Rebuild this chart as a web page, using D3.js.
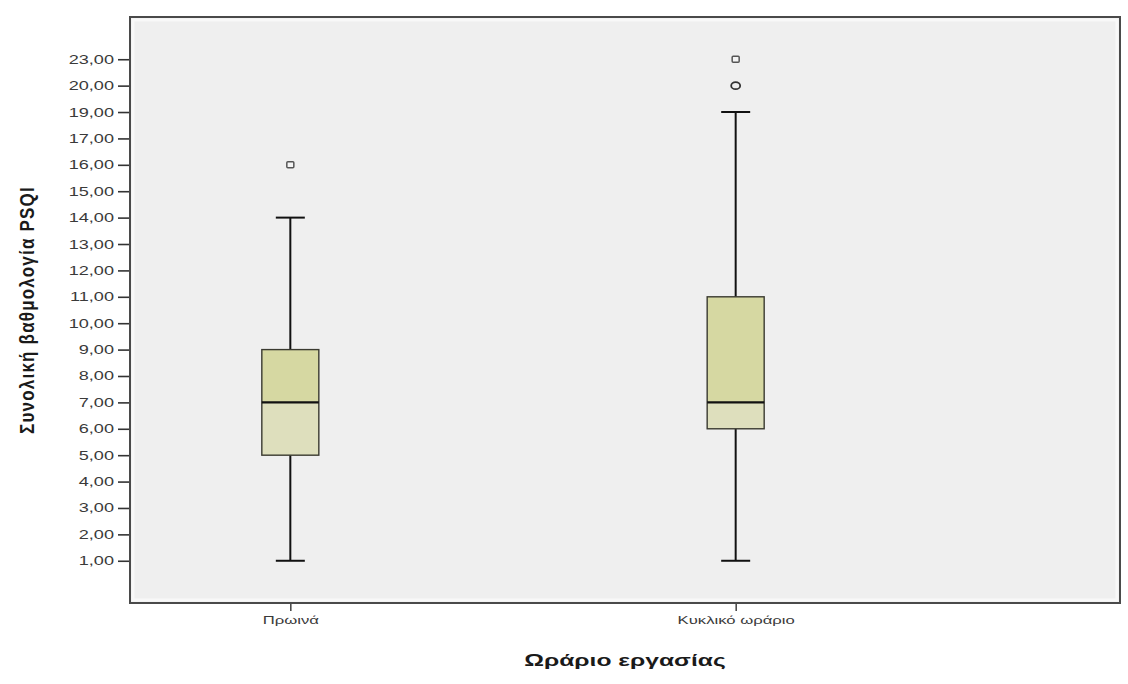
<!DOCTYPE html>
<html>
<head>
<meta charset="utf-8">
<script src="https://cdn.jsdelivr.net/npm/d3@7"></script>
<style>
  html, body { margin: 0; padding: 0; background: #ffffff; }
  svg { display: block; }
</style>
</head>
<body>
<svg id="chart" width="1128" height="684"></svg>
<script>
// Box plot of total PSQI score by work schedule
const categories = ["Πρωινά", "Κυκλικό ωράριο"];
const whiskerLow = [1, 1];
const quartile1 = [5, 6];
const medians = [7, 7];
const quartile3 = [9, 11];
const whiskerHigh = [14, 19];
// Points beyond the whiskers, with the symbol used for each
const outlierValues = [[16], [20, 23]];
const outlierSymbols = [["square"], ["circle", "square"]];
// Score values that carry a tick (the axis lists observed scores only)
const yTickValues = [1, 2, 3, 4, 5, 6, 7, 8, 9, 10, 11, 12, 13, 14, 15, 16, 17, 19, 20, 23];

const xTitle = "Ωράριο εργασίας";
const yTitle = "Συνολική βαθμολογία PSQI";

const svg = d3.select("#chart");
const frame = { left: 130, right: 1120, top: 17, bottom: 603 };
const textStretch = 1.45;

const x = d3.scalePoint()
  .domain(categories)
  .range([frame.left, 896])
  .padding(0.36);

const y = d3.scalePoint()
  .domain(yTickValues)
  .range([frame.bottom, frame.top])
  .padding(1.6);

const fmt = v => d3.format(".2f")(v).replace(".", ",");

// Plot area
svg.append("rect")
  .attr("x", frame.left).attr("y", frame.top)
  .attr("width", frame.right - frame.left)
  .attr("height", frame.bottom - frame.top)
  .attr("fill", "#efefef");
svg.append("rect")
  .attr("x", frame.left + 3).attr("y", frame.top + 3)
  .attr("width", frame.right - frame.left - 6)
  .attr("height", frame.bottom - frame.top - 6)
  .attr("fill", "none")
  .attr("stroke", "#f8f8f8")
  .attr("stroke-width", 3);

// Y axis
const yAxis = svg.append("g")
  .attr("transform", `translate(${frame.left},0)`)
  .call(d3.axisLeft(y).tickSize(12).tickPadding(4).tickFormat(fmt));
yAxis.select(".domain").remove();
yAxis.selectAll(".tick line").attr("stroke", "#333").attr("stroke-width", 1.6);
yAxis.selectAll(".tick text")
  .attr("fill", "#3a3a3a")
  .style("font-family", "'Liberation Sans', Arial, sans-serif")
  .style("font-size", "12.5px")
  .each(function () {
    const t = d3.select(this);
    const tx = +t.attr("x");
    t.attr("x", 0).attr("transform", `translate(${tx},0) scale(${textStretch},1)`);
  });

// X axis
const xAxis = svg.append("g")
  .attr("transform", `translate(0,${frame.bottom})`)
  .call(d3.axisBottom(x).tickSize(8).tickPadding(5));
xAxis.select(".domain").remove();
xAxis.selectAll(".tick line").attr("stroke", "#333").attr("stroke-width", 1.4);
xAxis.selectAll(".tick text")
  .attr("fill", "#3a3a3a")
  .style("font-family", "'Liberation Sans', Arial, sans-serif")
  .style("font-size", "11.5px")
  .each(function () {
    const t = d3.select(this);
    const ty = +t.attr("y");
    t.attr("y", 0).attr("transform", `translate(0,${ty}) scale(${textStretch},1)`);
  });

// Frame
svg.append("rect")
  .attr("x", frame.left).attr("y", frame.top)
  .attr("width", frame.right - frame.left)
  .attr("height", frame.bottom - frame.top)
  .attr("fill", "none")
  .attr("stroke", "#4a4a4a")
  .attr("stroke-width", 2);

// Boxes
const boxWidth = 57;
const capWidth = 29;
const boxes = svg.append("g");
categories.forEach((c, i) => {
  const cx = x(c);
  const g = boxes.append("g");
  // whiskers
  g.append("line")
    .attr("x1", cx).attr("x2", cx)
    .attr("y1", y(whiskerLow[i])).attr("y2", y(quartile1[i]))
    .attr("stroke", "#111").attr("stroke-width", 2);
  g.append("line")
    .attr("x1", cx).attr("x2", cx)
    .attr("y1", y(quartile3[i])).attr("y2", y(whiskerHigh[i]))
    .attr("stroke", "#111").attr("stroke-width", 2);
  [whiskerLow[i], whiskerHigh[i]].forEach(v => {
    g.append("line")
      .attr("x1", cx - capWidth / 2).attr("x2", cx + capWidth / 2)
      .attr("y1", y(v)).attr("y2", y(v))
      .attr("stroke", "#111").attr("stroke-width", 2);
  });
  // box halves
  g.append("rect")
    .attr("x", cx - boxWidth / 2).attr("width", boxWidth)
    .attr("y", y(quartile3[i]))
    .attr("height", y(medians[i]) - y(quartile3[i]))
    .attr("fill", "#d6d8a2");
  g.append("rect")
    .attr("x", cx - boxWidth / 2).attr("width", boxWidth)
    .attr("y", y(medians[i]))
    .attr("height", y(quartile1[i]) - y(medians[i]))
    .attr("fill", "#dedfbd");
  g.append("rect")
    .attr("x", cx - boxWidth / 2).attr("width", boxWidth)
    .attr("y", y(quartile3[i]))
    .attr("height", y(quartile1[i]) - y(quartile3[i]))
    .attr("fill", "none")
    .attr("stroke", "#3a3a30").attr("stroke-width", 1.4);
  // median
  g.append("line")
    .attr("x1", cx - boxWidth / 2).attr("x2", cx + boxWidth / 2)
    .attr("y1", y(medians[i])).attr("y2", y(medians[i]))
    .attr("stroke", "#111").attr("stroke-width", 2.2);
  // outliers
  outlierValues[i].forEach((v, k) => {
    const sym = outlierSymbols[i][k];
    if (sym === "circle") {
      g.append("ellipse")
        .attr("cx", cx).attr("cy", y(v))
        .attr("rx", 4.5).attr("ry", 3.5)
        .attr("fill", "none")
        .attr("stroke", "#333").attr("stroke-width", 1.8);
    } else {
      g.append("rect")
        .attr("x", cx - 3.5).attr("y", y(v) - 3)
        .attr("width", 7).attr("height", 6)
        .attr("rx", 1)
        .attr("fill", "#f4f4f4")
        .attr("stroke", "#555").attr("stroke-width", 1.5);
    }
  });
});

// Axis titles
svg.append("text")
  .attr("transform", `translate(${(frame.left + frame.right) / 2},666) scale(${textStretch},1)`)
  .attr("text-anchor", "middle")
  .attr("fill", "#1a1a1a")
  .style("font-family", "'Liberation Sans', Arial, sans-serif")
  .style("font-weight", "bold")
  .style("font-size", "17px")
  .text(xTitle);

svg.append("text")
  .attr("transform", `translate(34,${(frame.top + frame.bottom) / 2}) rotate(-90) scale(1,1.2)`)
  .attr("text-anchor", "middle")
  .attr("fill", "#1a1a1a")
  .style("font-family", "'Liberation Sans', Arial, sans-serif")
  .style("font-weight", "bold")
  .style("font-size", "17px")
  .style("letter-spacing", "1.2px")
  .text(yTitle);
</script>
</body>
</html>
